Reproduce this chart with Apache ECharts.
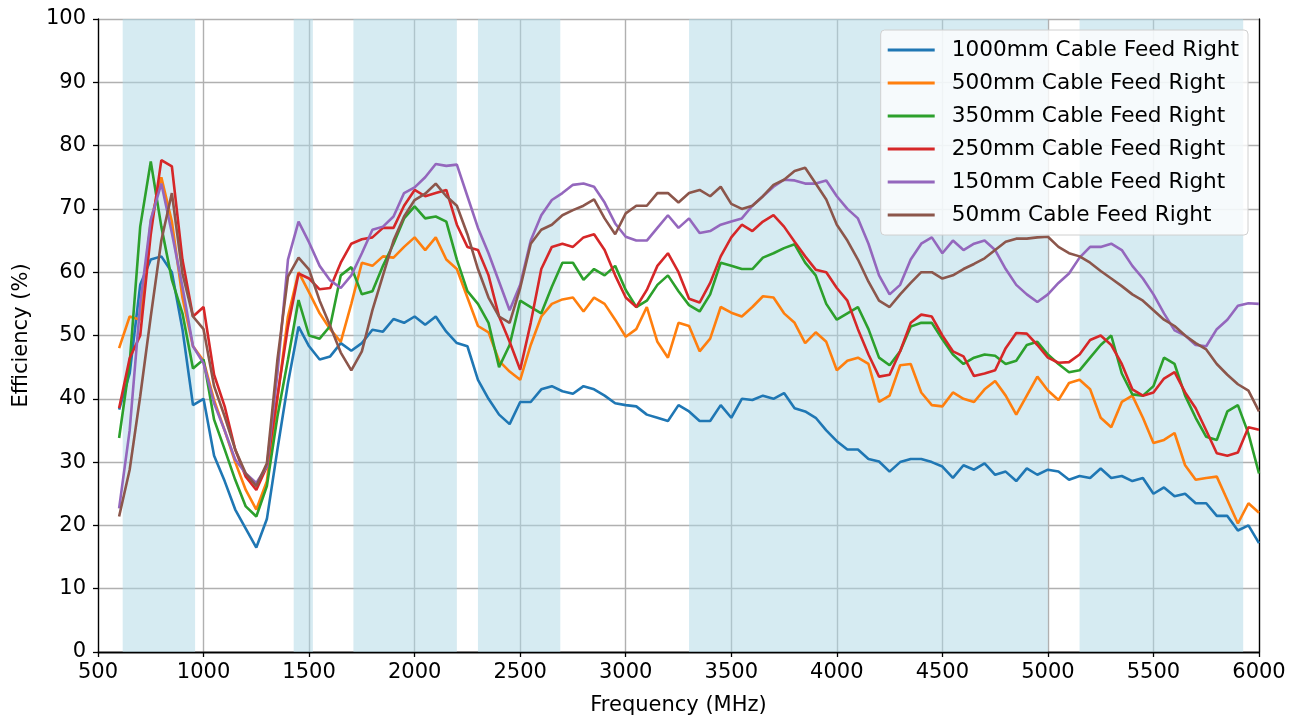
<!DOCTYPE html>
<html>
<head>
<meta charset="utf-8">
<script src="https://cdn.jsdelivr.net/npm/echarts@6/dist/echarts.min.js"></script>
<style>
  html, body { margin: 0; padding: 0; background: #fff; }
  #chart { width: 1301px; height: 722px; }
</style>
</head>
<body>
<div id="chart"></div>
<script>
// frequency points (MHz)
const freq = [
  600, 650, 700, 750, 800, 850, 900, 950,
  1000, 1050, 1100, 1150, 1200, 1250, 1300, 1350, 1400, 1450,
  1500, 1550, 1600, 1650, 1700, 1750, 1800, 1850, 1900, 1950,
  2000, 2050, 2100, 2150, 2200, 2250, 2300, 2350, 2400, 2450,
  2500, 2550, 2600, 2650, 2700, 2750, 2800, 2850, 2900, 2950,
  3000, 3050, 3100, 3150, 3200, 3250, 3300, 3350, 3400, 3450,
  3500, 3550, 3600, 3650, 3700, 3750, 3800, 3850, 3900, 3950,
  4000, 4050, 4100, 4150, 4200, 4250, 4300, 4350, 4400, 4450,
  4500, 4550, 4600, 4650, 4700, 4750, 4800, 4850, 4900, 4950,
  5000, 5050, 5100, 5150, 5200, 5250, 5300, 5350, 5400, 5450,
  5500, 5550, 5600, 5650, 5700, 5750, 5800, 5850, 5900, 5950,
  6000
]

// efficiency (%) per cable length
const eff1000 = [
  38.3, 44, 58, 62, 62.5, 60, 51, 39,
  40, 31, 27, 22.5, 19.5, 16.5, 21, 32, 42.5, 51.4,
  48.3, 46.2, 46.7, 48.8, 47.6, 48.8, 50.9, 50.6, 52.6, 52,
  53, 51.7, 53, 50.6, 48.8, 48.3, 43, 40, 37.5, 36,
  39.5, 39.5, 41.5, 42, 41.2, 40.8, 42, 41.5, 40.5, 39.3,
  39, 38.8, 37.5, 37, 36.5, 39, 38, 36.5, 36.5, 39,
  37, 40, 39.8, 40.5, 40, 40.9, 38.5, 38, 37, 35,
  33.3, 32, 32, 30.5, 30.1, 28.5, 30, 30.5, 30.5, 30,
  29.3, 27.5, 29.5, 28.8, 29.8, 28, 28.5, 27, 29, 28,
  28.8, 28.5, 27.2, 27.8, 27.5, 29, 27.5, 27.8, 27, 27.5,
  25, 26, 24.6, 25, 23.5, 23.5, 21.5, 21.5, 19.2, 20,
  17.2
]
const eff500 = [
  48, 53, 52.5, 68, 75, 68, 56, 48.3,
  46, 39.8, 35, 30, 25.6, 22.5, 27, 40, 53, 60,
  56.8, 53.5, 51, 49, 55, 61.5, 61, 62.5, 62.3, 64,
  65.5, 63.5, 65.5, 62, 60.5, 56, 51.5, 50.5, 46, 44.3,
  43, 48.5, 53, 55, 55.7, 56, 53.8, 56, 55, 52.5,
  49.8, 51, 54.5, 49, 46.5, 52, 51.5, 47.5, 49.5, 54.5,
  53.6, 53, 54.5, 56.2, 56, 53.5, 52, 48.8, 50.5, 49,
  44.5, 46, 46.5, 45.5, 39.5, 40.5, 45.3, 45.5, 41, 39,
  38.8, 41, 40, 39.5, 41.5, 42.8, 40.5, 37.5, 40.5, 43.5,
  41.3, 39.8, 42.5, 43, 41.5, 37, 35.5, 39.5, 40.5, 37,
  33, 33.5, 34.6, 29.5, 27.2, 27.5, 27.7, 24, 20.3, 23.5,
  22
]
const eff350 = [
  33.8, 45.6, 67.2, 77.5, 67.2, 58.8, 53.5, 44.8,
  46.2, 36.7, 32, 27.2, 23, 21.4, 26.2, 37.2, 46.2, 55.6,
  50, 49.5, 51.5, 59.5, 60.8, 56.5, 57, 61, 64.5, 68.5,
  70.4, 68.5, 68.8, 68, 62, 57, 55, 52, 45, 48.5,
  55.5, 54.5, 53.5, 57.7, 61.5, 61.5, 58.8, 60.5, 59.5, 61,
  57.2, 54.5, 55.5, 58, 59.5, 57, 54.8, 53.8, 56.5, 61.5,
  61, 60.5, 60.5, 62.3, 63, 63.8, 64.4, 61.5, 59.5, 55,
  52.5, 53.5, 54.5, 51, 46.5, 45.3, 47.5, 51.4, 52, 52,
  49.4, 47, 45.5, 46.5, 47, 46.8, 45.5, 46, 48.5, 49,
  47, 45.5, 44.2, 44.5, 46.5, 48.5, 50, 44, 40.7, 40.5,
  42, 46.5, 45.5, 40.5, 37, 34, 33.5, 38, 39, 34.5,
  28.2
]
const eff250 = [
  38.5, 46.4, 50, 66, 77.7, 76.7, 62, 53,
  54.5, 43.8, 38.8, 32, 27.7, 25.6, 29.3, 40.4, 51.4, 59.8,
  59, 57.3, 57.5, 61.5, 64.5, 65.2, 65.5, 67, 67, 70.5,
  73, 72, 72.5, 73, 67.5, 64, 63.5, 59.5, 53, 49,
  44.6, 52, 60.5, 64, 64.5, 64, 65.5, 66, 63.5, 59.5,
  56, 54.5, 57.2, 61, 63, 60, 55.8, 55.2, 58.3, 62.5,
  65.5, 67.5, 66.5, 68, 69, 67.2, 64.8, 62.5, 60.4, 60,
  57.5, 55.5, 51, 47, 43.5, 43.8, 47.5, 52, 53.3, 53,
  50, 47.5, 46.7, 43.6, 44, 44.5, 48, 50.4, 50.3, 48.5,
  46.5, 45.7, 45.8, 47, 49.3, 50, 48.5, 45.5, 41.5, 40.5,
  41, 43.2, 44.2, 41, 38.5, 35, 31.4, 31, 31.5, 35.5,
  35.1
]
const eff150 = [
  22.7, 35, 55, 68.3, 74, 66.2, 57.7, 48.3,
  45.6, 39.3, 35, 30.4, 28.2, 26.7, 29.3, 44, 62, 68,
  64.7, 61, 58.7, 57.5, 59.5, 63, 66.7, 67.2, 68.8, 72.5,
  73.4, 75, 77.1, 76.8, 77, 72, 67, 63, 58.5, 54,
  58, 65, 69, 71.4, 72.5, 73.8, 74, 73.5, 71, 67.7,
  65.6, 65, 65, 67, 69, 67, 68.5, 66.2, 66.5, 67.5,
  68, 68.5, 70.5, 72, 73.5, 74.6, 74.5, 74, 74, 74.5,
  72, 70, 68.5, 64.5, 59.5, 56.5, 58, 62, 64.5, 65.5,
  63, 65, 63.5, 64.5, 65, 63.5, 60.5, 58, 56.5, 55.3,
  56.5, 58.3, 59.8, 62.3, 64, 64, 64.5, 63.5, 61, 59,
  56.5, 53.5, 50.8, 50, 48.5, 48.3, 51, 52.5, 54.7, 55.1,
  55
]
const eff50 = [
  21.4, 28.8, 40.4, 53, 65, 72.5, 59.8, 53,
  51, 42, 37.2, 32, 28.2, 26.2, 29.8, 46.2, 59.3, 62.3,
  60.4, 55.5, 51.5, 47.3, 44.5, 47.5, 54, 59.5, 65, 68.8,
  71.4, 72.4, 74, 72, 70.5, 66, 60.5, 56, 53, 52,
  57.5, 64.5, 66.7, 67.5, 69, 69.8, 70.5, 71.5, 68.5, 66,
  69.3, 70.5, 70.5, 72.5, 72.5, 71, 72.5, 73, 72, 73.5,
  70.8, 70, 70.5, 72, 73.8, 74.6, 76, 76.5, 74, 71.5,
  67.5, 65, 62, 58.5, 55.5, 54.5, 56.5, 58.3, 60, 60,
  59, 59.5, 60.5, 61.3, 62.2, 63.5, 64.8, 65.3, 65.3, 65.5,
  65.6, 64, 63, 62.5, 61.5, 60.2, 59, 57.8, 56.5, 55.5,
  54, 52.5, 51.5, 50, 48.8, 47.8, 45.5, 43.8, 42.3, 41.3,
  38
]

// shaded frequency bands (MHz)
const bandStarts = [617, 1427, 1710, 2300, 3300, 5150]
const bandEnds = [960, 1518, 2200, 2690, 5000, 5925]

const seriesNames = [
  '1000mm Cable Feed Right',
  '500mm Cable Feed Right',
  '350mm Cable Feed Right',
  '250mm Cable Feed Right',
  '150mm Cable Feed Right',
  '50mm Cable Feed Right'
]
const seriesValues = [eff1000, eff500, eff350, eff250, eff150, eff50]
const colors = ['#1f77b4', '#ff7f0e', '#2ca02c', '#d62728', '#9467bd', '#8c564b']

const font = 'DejaVu Sans'
const chart = echarts.init(document.getElementById('chart'))

const lineSeries = seriesNames.map((name, k) => ({
  name: name,
  type: 'line',
  data: freq.map((f, i) => [f, seriesValues[k][i]]),
  symbol: 'none',
  showSymbol: false,
  color: colors[k],
  lineStyle: { width: 2.6, color: colors[k] },
  z: 3
}))

const bandSeries = {
  name: 'bands',
  type: 'line',
  data: [],
  silent: true,
  z: 1,
  markArea: {
    silent: true,
    itemStyle: { color: 'rgba(173, 216, 230, 0.5)' },
    data: bandStarts.map((s, i) => [{ xAxis: s }, { xAxis: bandEnds[i] }])
  }
}

const option = {
  animation: false,
  grid: { left: 98, right: 42, top: 19, bottom: 70 },
  legend: {
    data: seriesNames,
    orient: 'vertical',
    right: 53,
    top: 30,
    icon: 'rect',
    itemWidth: 47,
    itemHeight: 3,
    itemGap: 11,
    padding: [9, 9, 9, 7],
    backgroundColor: 'rgba(255,255,255,0.8)',
    borderColor: '#d0d0d0',
    borderWidth: 1,
    borderRadius: 4,
    textStyle: { fontFamily: font, fontSize: 21.6, color: '#000', lineHeight: 21, padding: [0, 0, 0, 12] }
  },
  xAxis: [
    {
      type: 'value',
      min: 500,
      max: 6000,
      interval: 500,
      name: 'Frequency (MHz)',
      nameLocation: 'middle',
      nameGap: 43,
      nameTextStyle: { fontFamily: font, fontSize: 21, color: '#000' },
      axisLine: { lineStyle: { color: '#000', width: 1.3 } },
      axisTick: { show: true, length: 5, lineStyle: { color: '#000', width: 1.3 } },
      axisLabel: { fontFamily: font, fontSize: 21, color: '#000', margin: 10, formatter: (v) => String(v) },
      splitLine: { show: true, lineStyle: { color: '#b0b0b0', width: 1.4 } }
    },
    {
      type: 'value',
      position: 'top',
      min: 500,
      max: 6000,
      axisLine: { show: true, lineStyle: { color: '#000', width: 1.3 } },
      axisTick: { show: false },
      axisLabel: { show: false },
      splitLine: { show: false }
    }
  ],
  yAxis: [
    {
      type: 'value',
      min: 0,
      max: 100,
      interval: 10,
      name: 'Efficiency (%)',
      nameLocation: 'middle',
      nameGap: 66,
      nameTextStyle: { fontFamily: font, fontSize: 21, color: '#000' },
      axisLine: { show: true, lineStyle: { color: '#000', width: 1.3 } },
      axisTick: { show: true, length: 5, lineStyle: { color: '#000', width: 1.3 } },
      axisLabel: { fontFamily: font, fontSize: 21, color: '#000', margin: 12 },
      splitLine: { show: true, lineStyle: { color: '#b0b0b0', width: 1.4 } }
    },
    {
      type: 'value',
      position: 'right',
      min: 0,
      max: 100,
      axisLine: { show: true, lineStyle: { color: '#000', width: 1.3 } },
      axisTick: { show: false },
      axisLabel: { show: false },
      splitLine: { show: false }
    }
  ],
  series: [bandSeries].concat(lineSeries)
}

chart.setOption(option)
</script>
</body>
</html>
